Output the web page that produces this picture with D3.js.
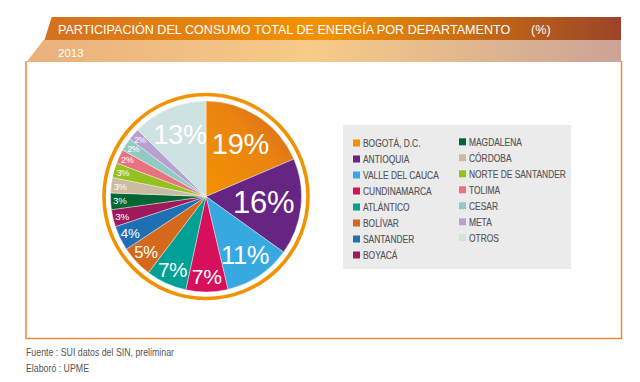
<!DOCTYPE html>
<html><head><meta charset="utf-8">
<script src="https://cdn.jsdelivr.net/npm/d3@7"></script>
<style>
html,body{margin:0;padding:0;background:#fff;}
svg{display:block;}
</style></head>
<body>
<svg id="chart" width="640" height="382"></svg>
<script>
const categories = ["BOGOTÁ, D.C.","ANTIOQUIA","VALLE DEL CAUCA","CUNDINAMARCA","ATLÁNTICO","BOLÍVAR","SANTANDER","BOYACÁ","MAGDALENA","CÓRDOBA","NORTE DE SANTANDER","TOLIMA","CESAR","META","OTROS"];
const values = [18.6, 16.3, 11.4, 7.1, 6.9, 5.4, 4.2, 2.9, 2.8, 2.6, 2.5, 2.4, 2.2, 2.0, 12.7];
const colors = ["url(#gBog)","#662483","#36a9e1","#d6105a","#00a096","#d4691c","#1f6fb5","#a01a5b","#006634","#cbbba0","#95c11f","#e8727f","#93c9c3","#b8a0d0","#cfe2e2"];
const legendColors = ["#f39200","#662483","#36a9e1","#d6105a","#00a096","#d4691c","#1f6fb5","#a01a5b","#006634","#cbbba0","#95c11f","#e8727f","#93c9c3","#b8a0d0","#cfe2e2"];
const title = "PARTICIPACIÓN DEL CONSUMO TOTAL DE ENERGÍA POR DEPARTAMENTO";
const unit = "(%)";
const year = "2013";
const notes = ["Fuente : SUI datos del SIN, preliminar","Elaboró : UPME"];

const svg = d3.select("#chart");
const defs = svg.append("defs");

function lin(id, stops, x1="0%", y1="0%", x2="100%", y2="0%"){
  const g = defs.append("linearGradient").attr("id", id).attr("x1",x1).attr("y1",y1).attr("x2",x2).attr("y2",y2);
  stops.forEach(s => g.append("stop").attr("offset", s[0]).attr("stop-color", s[1]));
}
lin("gDark", [["0%","#d4701f"],["48%","#f39200"],["100%","#9c4429"]]);
lin("gLight", [["0%","#e9b07c"],["48%","#f7cb88"],["100%","#cca396"]]);
lin("gBog", [["0%","#f39200"],["55%","#ea8410"],["100%","#d2651f"]], "0%","100%","100%","0%");

const sans = "Liberation Sans, Arial, sans-serif";

// box
svg.append("path")
  .attr("d","M26,61 V338.5 H621.5 V61")
  .attr("fill","none").attr("stroke","#e8893b").attr("stroke-width",1.5);

// header bands
svg.append("path").attr("d","M51.7,17 H621 V40 H44.5 Z").attr("fill","url(#gDark)");
svg.append("path").attr("d","M43.5,40 H621 V62 H26.5 Z").attr("fill","url(#gLight)");

svg.append("text").attr("x",58).attr("y",33.5).attr("fill","#fff")
  .attr("font-family",sans).attr("font-size",12.6)
  .text(title);
svg.append("text").attr("x",531).attr("y",33.5).attr("fill","#fff")
  .attr("font-family",sans).attr("font-size",12.6)
  .text(unit);
svg.append("text").attr("x",58).attr("y",56.5).attr("fill","#fff")
  .attr("font-family",sans).attr("font-size",11.5)
  .text(year);

// pie
const cx = 206, cy = 196.5, R = 95.5;
const g = svg.append("g").attr("transform",`translate(${cx},${cy})`);
g.append("circle").attr("r",102).attr("fill","none").attr("stroke","#f39200").attr("stroke-width",3.6);

const pie = d3.pie().sort(null).value(d => d);
const arcs = pie(values);
const arc = d3.arc().innerRadius(0).outerRadius(R);
g.selectAll("path.slice").data(arcs).enter().append("path")
  .attr("class","slice")
  .attr("d", arc)
  .attr("fill", (d,i) => colors[i])
  .attr("stroke","#fff").attr("stroke-width",0.4);

const fs = d3.scaleLinear().domain([2,3,7,11,16]).range([8.5,10,21,25,31]).clamp(true);
const lr = d3.scaleLinear().domain([8.5,21,31]).range([87,80,58]).clamp(true);
g.selectAll("text.lab").data(arcs).enter().append("text")
  .attr("class","lab")
  .each(function(d){
    const f = Math.min(fs(d.data), d.data > 18 ? 29 : 31);
    const r = lr(f);
    const a = (d.startAngle + d.endAngle)/2;
    d3.select(this)
      .attr("x", r*Math.sin(a)).attr("y", -r*Math.cos(a))
      .attr("font-size", f);
  })
  .attr("text-anchor","middle").attr("dominant-baseline","central")
  .attr("fill","#fff").attr("font-family",sans)
  .attr("letter-spacing","-0.3")
  .text(d => Math.round(d.data) + "%");

// legend
svg.append("rect").attr("x",343).attr("y",125).attr("width",228).attr("height",144).attr("fill","#ebebeb");
const lg = svg.append("g");
categories.forEach((c,i) => {
  const col = i < 8 ? 0 : 1;
  const row = i < 8 ? i : i - 8;
  const x = col === 0 ? 353 : 459;
  const y = 143 + row*16 - col*1.2;
  lg.append("rect").attr("x",x).attr("y",y-3.5).attr("width",7).attr("height",7).attr("fill",legendColors[i]);
  lg.append("g").attr("transform",`translate(${x+10},${y}) scale(0.78,1)`)
    .append("text").attr("dominant-baseline","central")
    .attr("font-family",sans).attr("font-size",10.8)
    .attr("fill","#555").attr("stroke","#555").attr("stroke-width",0.15).text(c);
});

// notes
notes.forEach((t,i) => {
  svg.append("g").attr("transform",`translate(26,${356 + i*15.5}) scale(0.88,1)`)
    .append("text")
    .attr("font-family",sans).attr("font-size",10)
    .attr("fill","#555").text(t);
});
</script>
</body></html>
